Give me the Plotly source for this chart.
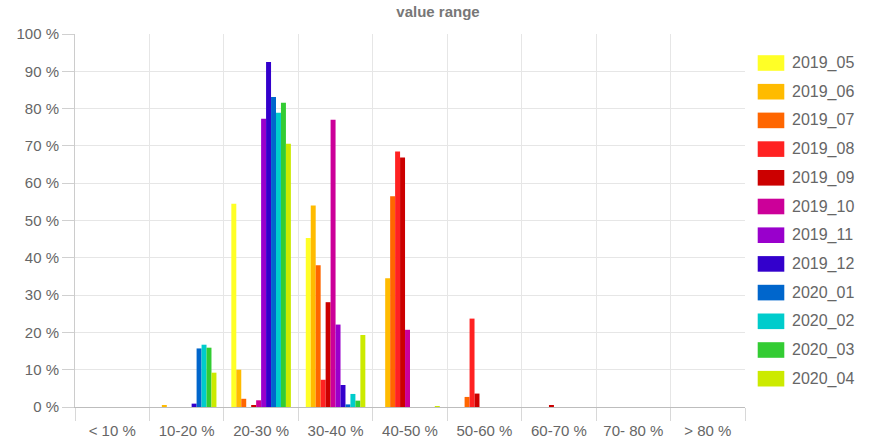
import plotly.graph_objects as go

# Category buckets on the x axis
categories = ["< 10 %", "10-20 %", "20-30 %", "30-40 %", "40-50 %",
              "50-60 %", "60-70 %", "70- 80 %", "> 80 %"]

# Monthly series (share of values per bucket, in %)
months = ["2019_05", "2019_06", "2019_07", "2019_08", "2019_09", "2019_10",
          "2019_11", "2019_12", "2020_01", "2020_02", "2020_03", "2020_04"]

s_2019_05 = [0, 0, 54.5, 45.3, 0, 0, 0, 0, 0]
s_2019_06 = [0, 0.5, 10.0, 54.0, 34.5, 0, 0, 0, 0]
s_2019_07 = [0, 0, 2.2, 38.0, 56.5, 2.7, 0, 0, 0]
s_2019_08 = [0, 0, 0, 7.3, 68.5, 23.7, 0, 0, 0]
s_2019_09 = [0, 0, 0.5, 28.1, 66.9, 3.6, 0.3, 0, 0]
s_2019_10 = [0, 0, 1.8, 77.0, 20.7, 0, 0, 0, 0]
s_2019_11 = [0, 0, 77.3, 22.1, 0, 0, 0, 0, 0]
s_2019_12 = [0, 0.9, 92.5, 5.9, 0, 0, 0, 0, 0]
s_2020_01 = [0, 15.7, 83.1, 0.7, 0, 0, 0, 0, 0]
s_2020_02 = [0, 16.7, 78.9, 3.5, 0, 0, 0, 0, 0]
s_2020_03 = [0, 15.9, 81.6, 1.7, 0, 0, 0, 0, 0]
s_2020_04 = [0, 9.2, 70.6, 19.3, 0.2, 0, 0, 0, 0]

series = [s_2019_05, s_2019_06, s_2019_07, s_2019_08, s_2019_09, s_2019_10,
          s_2019_11, s_2019_12, s_2020_01, s_2020_02, s_2020_03, s_2020_04]

colors = ["#ffff26", "#ffbb00", "#ff6600", "#ff2222", "#cc0000", "#cc0099",
          "#9900cc", "#3300cc", "#0066cc", "#00cccc", "#33cc33", "#ccea00"]

y_ticks = list(range(0, 101, 10))
y_ticktext = [f"{v} %" for v in y_ticks]

FONT = "Liberation Sans, Arial, sans-serif"
TEXT = "#666666"

W, H = 870, 438
ML, MR, MT, MB = 75, 125, 34, 31
PW, PH = W - ML - MR, H - MT - MB

fig = go.Figure()
for name, vals, col in zip(months, series, colors):
    fig.add_trace(go.Bar(
        x=categories, y=vals, name=name,
        marker=dict(color=col, line=dict(width=0)),
        showlegend=False,
    ))

# Legend drawn as swatches + labels to the right of the plot
shapes = []
annotations = []
for i, (name, col) in enumerate(zip(months, colors)):
    cy = 63 + i * 28.7
    y0 = (H - MB - (cy + 7.8)) / PH
    y1 = (H - MB - (cy - 7.8)) / PH
    shapes.append(dict(
        type="rect", xref="paper", yref="paper",
        x0=(757.7 - ML) / PW, x1=(784.3 - ML) / PW, y0=y0, y1=y1,
        fillcolor=col, line=dict(width=0),
    ))
    annotations.append(dict(
        xref="paper", yref="paper", x=(790 - ML) / PW, y=(H - MB - cy) / PH,
        xanchor="left", yanchor="middle", text=name, showarrow=False,
        font=dict(family=FONT, size=16, color=TEXT),
    ))

fig.update_layout(
    width=W, height=H,
    margin=dict(l=ML, r=MR, t=MT, b=MB, pad=0),
    paper_bgcolor="white", plot_bgcolor="white",
    barmode="group", bargap=0.2, bargroupgap=0,
    title=dict(text="<b>value range</b>", x=438 / W, xref="container",
               xanchor="center", y=1 - 12 / H, yanchor="middle",
               font=dict(family=FONT, size=15, color="#777777")),
    font=dict(family=FONT, size=15, color=TEXT),
    shapes=shapes, annotations=annotations,
    xaxis=dict(
        type="category", tickson="boundaries",
        showgrid=True, gridcolor="#e6e6e6", gridwidth=1,
        ticks="outside", ticklen=13, tickcolor="#d8d8d8", tickwidth=1,
        ticklabelstandoff=10, automargin=False,
        showline=True, linecolor="#bdbdbd", linewidth=1,
        tickfont=dict(family=FONT, size=15, color=TEXT),
        fixedrange=True,
    ),
    yaxis=dict(
        range=[0, 100], tickvals=y_ticks, ticktext=y_ticktext,
        showgrid=True, gridcolor="#e6e6e6", gridwidth=1,
        ticks="outside", ticklen=12, tickcolor="#d0d0d0",
        showline=True, linecolor="#cccccc", linewidth=1,
        zeroline=False, automargin=False,
        tickfont=dict(family=FONT, size=15, color=TEXT),
    ),
)

fig.write_html("out.html")
